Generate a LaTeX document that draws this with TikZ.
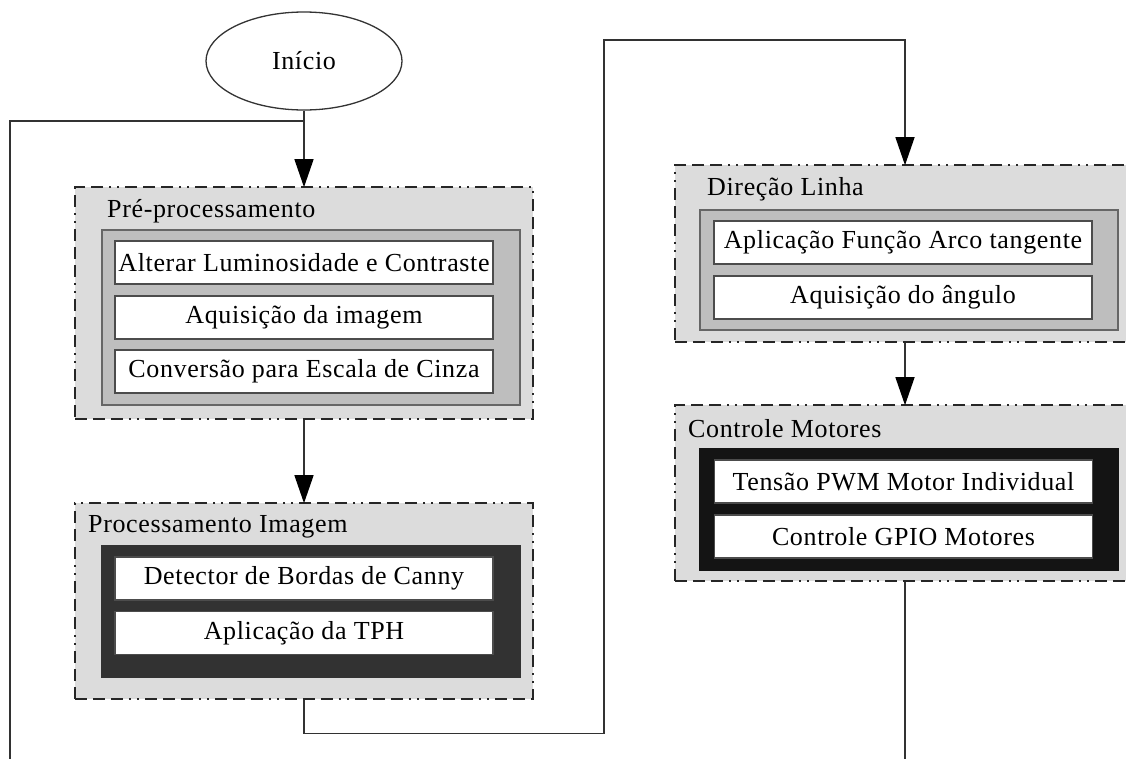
\documentclass[tikz,border=0pt]{standalone}
\usepackage{fontspec}
\setmainfont{Liberation Serif}
\usetikzlibrary{arrows.meta,shapes.geometric}
\definecolor{clusterfill}{RGB}{220,220,220}
\definecolor{innergray}{RGB}{190,190,190}
\definecolor{innerdark}{RGB}{50,50,50}
\definecolor{innerblack}{RGB}{20,20,20}
\definecolor{edgegray}{RGB}{50,50,50}
\tikzset{
  x=1pt, y=-1pt,
  txt/.style={font=\fontsize{26}{30}\selectfont\addfontfeature{LetterSpace=2.5}},
  cluster/.style={draw=black!85, fill=clusterfill, line width=1.6pt,
    dash pattern=on 12pt off 6pt on 12pt off 6pt on 12pt off 6pt on 2pt off 6pt on 2pt off 6pt,
    inner sep=0pt},
  innerbox/.style={draw=black!60, line width=1.5pt, inner sep=0pt},
  task/.style={draw=black!70, fill=white, line width=1.5pt, inner sep=0pt,
    minimum width=378pt, minimum height=43pt, txt},
  ctitle/.style={anchor=west, inner sep=0pt, txt},
  conn/.style={draw=edgegray, line width=1.3pt},
  arr/.style={conn, -{Triangle[length=28pt,width=19pt,fill=black,color=black]}, shorten >=-1pt},
}
\begin{document}
\begin{tikzpicture}
\useasboundingbox (0,0) rectangle (1126,758);
\begin{scope}
\clip (0,0) rectangle (1126,758);
% start
\node[ellipse, draw=black!80, line width=1.3pt, fill=white, minimum width=196pt, minimum height=98pt, inner sep=0pt, txt] (start) at (304,61) {Início};

% Pre-processamento
\node[cluster, minimum width=458pt, minimum height=232pt] (pre) at (304,303) {};
\node[ctitle] (pret) at (107,211) {Pré-processamento};
\node[innerbox, fill=innergray, minimum width=418pt, minimum height=175pt] (prein) at (311,317.5) {};
\node[task] (p1) at (304,262.5) {Alterar Luminosidade e Contraste};
\node[task] (p2) at (304,317.5) {Aquisição da imagem};
\node[task] (p3) at (304,371.5) {Conversão para Escala de Cinza};

% Processamento Imagem
\node[cluster, minimum width=458pt, minimum height=196pt] (proc) at (304,601) {};
\node[ctitle] (proct) at (88,527) {Processamento Imagem};
\node[innerbox, draw=innerdark, fill=innerdark, minimum width=418pt, minimum height=131pt] (procin) at (311,611.5) {};
\node[task] (q1) at (304,578.5) {Detector de Bordas de Canny};
\node[task] (q2) at (304,633) {Aplicação da TPH};

% Direcao Linha
\node[cluster, minimum width=460pt, minimum height=177pt] (dir) at (905,253.5) {};
\node[ctitle] (dirt) at (707,189) {Direção Linha};
\node[innerbox, fill=innergray, minimum width=418pt, minimum height=120pt] (dirin) at (909,270) {};
\node[task] (d1) at (903,242.5) {Aplicação Função Arco tangente};
\node[task] (d2) at (903,297.5) {Aquisição do ângulo};

% Controle Motores
\node[cluster, minimum width=460pt, minimum height=176pt] (ctrl) at (905,493) {};
\node[ctitle] (ctrlt) at (688,429) {Controle Motores};
\node[innerbox, draw=innerblack, fill=innerblack, minimum width=418pt, minimum height=121pt] (ctrlin) at (909,509.5) {};
\node[task] (c1) at (903.5,481.5) {Tensão PWM Motor Individual};
\node[task] (c2) at (903.5,536.5) {Controle GPIO Motores};

% connectors
\coordinate (join) at (304,121);
\coordinate (loopin) at (10,760);
\coordinate (ctrlout) at (905,760);
\draw[arr] (start.south) -- (pre.north);
\draw[conn] (loopin) |- (join);
\draw[arr] (pre.south) -- (proc.north);
\draw[arr] (proc.south) -- ++(0,34) -| (604,40) -| (dir.north);
\draw[arr] (dir.south) -- (ctrl.north);
\draw[conn] (ctrl.south) -- (ctrlout);
\end{scope}
\end{tikzpicture}
\end{document}
